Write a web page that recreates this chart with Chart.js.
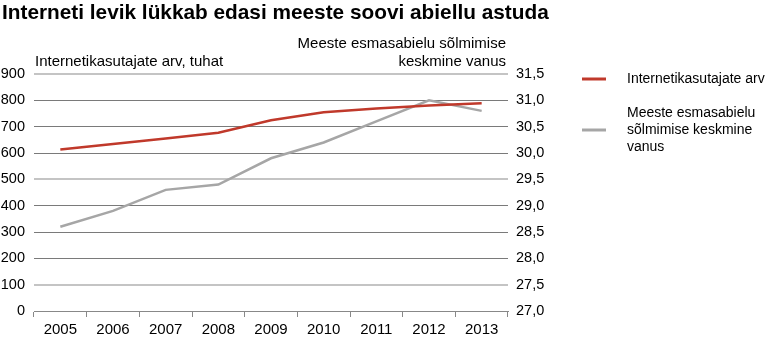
<!DOCTYPE html>
<html>
<head>
<meta charset="utf-8">
<script src="https://cdn.jsdelivr.net/npm/chart.js@4.4.1/dist/chart.umd.min.js"></script>
<style>
  html, body { margin: 0; padding: 0; background: #fff; }
  #wrap { position: relative; width: 769px; height: 343px; }
</style>
</head>
<body>
<div id="wrap"><canvas id="myChart" width="769" height="343"></canvas></div>
<script>
const years = ['2005', '2006', '2007', '2008', '2009', '2010', '2011', '2012', '2013'];
const internetUsers = [613, 634, 655, 677, 724, 755, 769, 780, 789];
const marriageAge = [28.6, 28.9, 29.3, 29.4, 29.9, 30.2, 30.6, 31.0, 30.8];

const FONT = '"Liberation Sans", Arial, sans-serif';
const RED = '#c0392b';
const GREY = '#a6a6a6';

// titles, axis captions and legend drawn by hand
const extras = {
  id: 'extras',
  afterDraw(chart) {
    const ctx = chart.ctx;
    ctx.save();
    ctx.fillStyle = '#000';
    ctx.textBaseline = 'alphabetic';
    ctx.font = 'bold 20.8px ' + FONT;
    ctx.textAlign = 'left';
    ctx.fillText('Interneti levik lükkab edasi meeste soovi abiellu astuda', 2, 19);

    ctx.textBaseline = 'middle';
    ctx.font = '15px ' + FONT;
    ctx.fillText('Internetikasutajate arv, tuhat', 35, 62);
    ctx.textAlign = 'right';
    ctx.fillText('Meeste esmasabielu sõlmimise', 506, 44);
    ctx.fillText('keskmine vanus', 506, 62);

    // legend
    ctx.font = '14px ' + FONT;
    ctx.textAlign = 'left';
    ctx.lineWidth = 3;
    ctx.strokeStyle = RED;
    ctx.beginPath(); ctx.moveTo(582, 79); ctx.lineTo(606, 79); ctx.stroke();
    ctx.fillText('Internetikasutajate arv', 627, 79);
    ctx.strokeStyle = GREY;
    ctx.beginPath(); ctx.moveTo(582, 130); ctx.lineTo(606, 130); ctx.stroke();
    ctx.fillText('Meeste esmasabielu', 627, 113);
    ctx.fillText('sõlmimise keskmine', 627, 130);
    ctx.fillText('vanus', 627, 147);
    ctx.restore();
  }
};

const myChart = new Chart(document.getElementById('myChart'), {
  type: 'line',
  data: {
    labels: years,
    datasets: [
      {
        label: 'Internetikasutajate arv',
        data: internetUsers,
        yAxisID: 'y',
        borderColor: RED,
        borderWidth: 2.5,
        pointRadius: 0,
        tension: 0
      },
      {
        label: 'Meeste esmasabielu sõlmimise keskmine vanus',
        data: marriageAge,
        yAxisID: 'y1',
        borderColor: GREY,
        borderWidth: 2.5,
        pointRadius: 0,
        tension: 0
      }
    ]
  },
  options: {
    responsive: false,
    animation: false,
    layout: { padding: { top: 74, right: 211, bottom: 0, left: 0 } },
    plugins: {
      legend: { display: false },
      title: { display: false },
      tooltip: { enabled: false }
    },
    scales: {
      x: {
        offset: true,
        grid: { offset: true, drawOnChartArea: false, tickLength: 6, color: '#888' },
        border: { color: '#888' },
        ticks: { color: '#000', font: { family: FONT, size: 15 }, padding: 4, maxRotation: 0 },
        afterFit(s) { s.height = 32; }
      },
      y: {
        position: 'left',
        min: 0,
        max: 900,
        ticks: { stepSize: 100, color: '#000', font: { family: FONT, size: 14.5 }, padding: 9 },
        grid: {
          drawTicks: false,
          color: (c) => [100, 500, 900].includes(c.tick.value) ? '#c4c4c4' : '#7a7a7a',
          lineWidth: (c) => [100, 500, 900].includes(c.tick.value) ? 2 : 1
        },
        border: { display: false },
        afterFit(s) { s.width = 34; }
      },
      y1: {
        position: 'right',
        min: 27,
        max: 31.5,
        ticks: {
          stepSize: 0.5,
          color: '#000',
          font: { family: FONT, size: 14.5 },
          padding: 8,
          callback: (v) => v.toFixed(1).replace('.', ',')
        },
        grid: { drawOnChartArea: false, drawTicks: false },
        border: { display: false },
        afterFit(s) { s.width = 50; }
      }
    }
  },
  plugins: [extras]
});
</script>
</body>
</html>
